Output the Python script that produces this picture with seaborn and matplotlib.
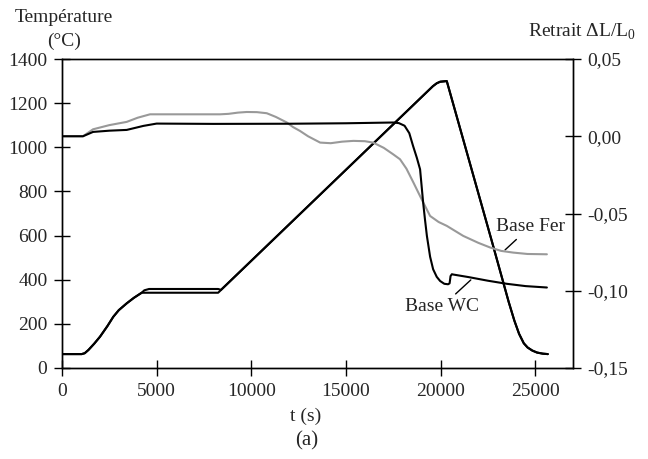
import numpy as np
import pandas as pd
import seaborn as sb
from matplotlib import pyplot as plt
from matplotlib.ticker import FuncFormatter

# temperature cycle (left axis, degC)
t_temp = [0, 1040, 1200, 1400, 1700, 2010, 2400, 2710, 3000, 3420, 3800, 4210,
          8250, 19600, 19800, 19980, 20330, 22700, 23600, 23900, 24150, 24400,
          24600, 24850, 25100, 25400, 25670]
T_wc = [63, 63, 67, 82, 110, 142, 190, 232, 262, 293, 318, 341,
        341, 1277, 1290, 1297, 1300, 578, 300, 215, 155, 112,
        93, 79, 70, 65, 63]
# second thermocouple: same cycle, plateau slightly higher
t_temp2 = [0, 1040, 1200, 1400, 1700, 2010, 2400, 2710, 3000, 3420, 3800, 4210,
           4350, 4600, 8250, 8400, 19600, 19800, 19980, 20330, 22700, 23600, 23900,
           24150, 24400, 24600, 24850, 25100, 25400, 25670]
T_fer = [63, 63, 67, 82, 110, 142, 190, 232, 262, 293, 318, 341,
         352, 358, 358, 354, 1277, 1290, 1297, 1300, 578, 300, 215,
         155, 112, 93, 79, 70, 65, 63]

# shrinkage dL/L0 (right axis)
t_wc = [0, 1110, 1640, 2500, 3420, 4300, 5000, 8000, 12000, 15000, 17000, 17500,
        17800, 18100, 18350, 18550, 18750, 18920, 19000, 19080, 19180, 19280, 19450,
        19610, 19800, 19980, 20200, 20400, 20480, 20530, 20600, 20670, 21500, 22500,
        23500, 24500, 25620]
r_wc = [0.0, 0.0, 0.0028, 0.0036, 0.0041, 0.0067, 0.0082, 0.0080, 0.0081, 0.0084, 0.0088, 0.0089,
        0.0085, 0.0068, 0.0020, -0.0063, -0.0140, -0.0214, -0.0320, -0.0427, -0.0540, -0.0645, -0.0780,
        -0.0861, -0.0910, -0.0937, -0.0955, -0.0958, -0.0952, -0.0905, -0.0893, -0.0895, -0.0912, -0.0935,
        -0.0955, -0.0970, -0.0979]

t_fer = [0, 1110, 1640, 2500, 3420, 4000, 4650, 6500, 8350, 8800, 9300, 9760,
         10300, 10820, 11300, 11880, 12200, 12580, 13000, 13640, 14200, 14800, 15390,
         16000, 16440, 17000, 17500, 17860, 18200, 18570, 18850, 19080, 19450, 19900,
         20330, 21200, 22000, 22620, 23200, 23840, 24600, 25620]
r_fer = [0.0, 0.0, 0.0045, 0.0072, 0.0093, 0.0120, 0.0142, 0.0142, 0.0142, 0.0145, 0.0153, 0.0157,
         0.0156, 0.0149, 0.0125, 0.0089, 0.0060, 0.0034, 0.0000, -0.0041, -0.0045, -0.0035, -0.0030,
         -0.0032, -0.0041, -0.0075, -0.0117, -0.0149, -0.0210, -0.0300, -0.0370, -0.0427, -0.0516, -0.0555,
         -0.0580, -0.0645, -0.0690, -0.0720, -0.0742, -0.0753, -0.0762, -0.0764]

left_ticks = [0, 200, 400, 600, 800, 1000, 1200, 1400]
right_ticks = [-0.15, -0.10, -0.05, 0.00, 0.05]
x_ticks = [0, 5000, 10000, 15000, 20000, 25000]

sb.set_style('white')
plt.rcParams['font.family'] = ['Liberation Serif', 'DejaVu Serif']
plt.rcParams['mathtext.fontset'] = 'custom'
plt.rcParams['mathtext.rm'] = 'Liberation Serif'
fs = 14

fig = plt.figure(figsize=(6.48, 4.59), dpi=100)
ax = fig.add_axes([62/648, 1 - 368/459, (573-62)/648, (368-59)/459])
ax2 = ax.twinx()

sb.lineplot(x=t_temp, y=T_wc, ax=ax, color='black', lw=1.5)
sb.lineplot(x=t_temp2, y=T_fer, ax=ax, color='black', lw=1.5)
sb.lineplot(x=t_fer, y=r_fer, ax=ax2, color='#999999', lw=1.5)
sb.lineplot(x=t_wc, y=r_wc, ax=ax2, color='black', lw=1.5)

ax.set_xlim(0, 27000)
ax.set_ylim(0, 1400)
ax2.set_ylim(-0.15, 0.05)
ax.set_xticks(x_ticks)
ax.set_yticks(left_ticks)
ax2.set_yticks(right_ticks)
ax2.yaxis.set_major_formatter(FuncFormatter(lambda v, p: ('%.2f' % v).replace('.', ',')))

for a in (ax, ax2):
    for s in a.spines.values():
        s.set_color('black')
        s.set_linewidth(1.0)
ax.spines['top'].set_color('#333333')
ax.tick_params(axis='both', direction='inout', length=11, width=1, color='black',
               labelsize=fs, pad=5, left=True, bottom=True)
ax2.tick_params(axis='y', direction='inout', length=11, width=1, color='black',
                labelsize=fs, pad=5, right=True)

ax.set_xlabel('t (s)', fontsize=fs, labelpad=-2)
ax.xaxis.set_label_coords((306-62)/511, -0.13)

fig.text(64/648, 1 - 18/459, 'Température', fontsize=fs, ha='center', va='center')
fig.text(64/648, 1 - 41/459, '(°C)', fontsize=fs, ha='center', va='center')
fig.text(582/648, 1 - 32/459, r'Retrait $\Delta$L/L$_0$', fontsize=fs, ha='center', va='center')
fig.text(307/648, 1 - 441/459, '(a)', fontsize=fs+1, ha='center', va='center')

ax.annotate('Base Fer', xy=(23410, 535), xytext=(24735, 640), fontsize=fs,
            ha='center', va='center', arrowprops=dict(arrowstyle='-', color='black', lw=1, shrinkA=1, shrinkB=0))
ax.annotate('Base WC', xy=(21600, 399), xytext=(20070, 278), fontsize=fs,
            ha='center', va='center', arrowprops=dict(arrowstyle='-', color='black', lw=1, shrinkA=1, shrinkB=0))

plt.savefig('out.png', dpi=100)
